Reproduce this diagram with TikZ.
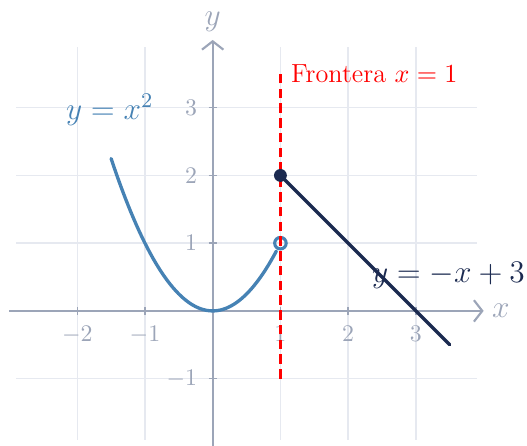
\documentclass[tikz,border=0pt]{standalone}
\usepackage{graphicx}
\usetikzlibrary{arrows.meta}
\definecolor{axisgray}{HTML}{9CA5B8}
\definecolor{gridgray}{HTML}{E6E9F0}
\definecolor{parablue}{HTML}{4682B4}
\definecolor{linenavy}{HTML}{1B2A50}
\tikzset{
  gridline/.style={draw=gridgray, line width=0.6pt},
  axisline/.style={draw=axisgray, line width=0.9pt, -{Straight Barb[length=3.5pt,width=9pt,line width=0.9pt]}},
  ticklbl/.style={text=axisgray, font=\fontsize{10}{12}\selectfont},
  axislbl/.style={text=axisgray, font=\fontsize{12}{15}\selectfont},
  funclbl/.style={font=\fontsize{12}{15}\selectfont},
  curve/.style={line width=1.4pt, line cap=round},
}
\newcommand{\biglbl}[1]{\scalebox{1.1}{#1}}
\begin{document}
\begin{tikzpicture}
\useasboundingbox (-3.14,-1.99) rectangle (4.64,4.59);
% grid
\draw[gridline] (-2.9,-1.9) grid (3.9,3.9);
% axes
\coordinate (xs) at (-3,0);
\coordinate (xe) at (4,0);
\coordinate (ys) at (0,-2);
\coordinate (ye) at (0,4);
\draw[axisline] (xs) -- (xe);
\draw[axisline] (ys) -- (ye);
\node[axislbl, right] (xl) at (xe) {\biglbl{$x$}};
\node[axislbl, above] (yl) at (ye) {\biglbl{$y$}};
% ticks and labels
\foreach \x in {-2,-1,1,2,3} {
  \draw[axisgray, line width=0.6pt] (\x,-0.06) -- (\x,0.06);
  \node[ticklbl, below=3pt] (tx\x) at (\x,0) {$\x$};
}
\foreach \y in {-1,1,2,3} {
  \draw[axisgray, line width=0.6pt] (-0.06,\y) -- (0.06,\y);
  \node[ticklbl, left=3pt] (ty\y) at (0,\y) {$\y$};
}
% labels of functions
\node[funclbl, text=parablue] (lp) at (-1.52,2.97) {\biglbl{$y=x^2$}};
\node[funclbl, text=linenavy, anchor=east, inner sep=0pt] (ll) at (4.615,0.52) {\biglbl{$y=-x+3$}};
% parabola
\draw[curve, parablue, domain=-1.5:0.94, samples=60] plot (\x,{\x*\x});
\node[circle, draw=parablue, line width=1.3pt, inner sep=0pt, minimum size=0.17cm] (open) at (1,1) {};
% boundary
\coordinate (fb) at (1,-1);
\coordinate (ft) at (1,3.52);
\draw[red, line width=1pt, dash pattern=on 4pt off 2.2pt] (fb) -- (ft);
\node[right, text=red, font=\fontsize{11}{13}\selectfont, inner sep=2pt] (fr) at (1.08,3.5) {Frontera $x=1$};
% line
\node[circle, fill=linenavy, inner sep=0pt, minimum size=0.19cm] (dot) at (1,2) {};
\coordinate (le) at (3.5,-0.5);
\draw[curve, linenavy] (dot.center) -- (le);
\end{tikzpicture}
\end{document}
